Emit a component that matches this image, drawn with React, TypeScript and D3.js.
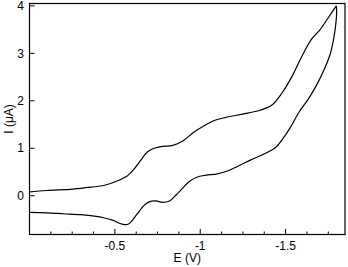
import React from "react";
import * as d3 from "d3";

const forwardE = [0, -0.1, -0.255, -0.36, -0.44, -0.52, -0.57, -0.61, -0.65, -0.69, -0.73, -0.78, -0.84, -0.9, -0.96, -1.02, -1.08, -1.15, -1.25, -1.35, -1.42, -1.48, -1.54, -1.6, -1.65, -1.7, -1.75, -1.797];
const forwardI = [0.08, 0.11, 0.14, 0.18, 0.22, 0.32, 0.41, 0.55, 0.74, 0.92, 1.0, 1.04, 1.06, 1.16, 1.33, 1.47, 1.58, 1.65, 1.72, 1.8, 1.91, 2.17, 2.53, 2.97, 3.29, 3.49, 3.75, 4.0];
const reverseE = [-1.797, -1.799, -1.785, -1.76, -1.72, -1.68, -1.63, -1.58, -1.53, -1.48, -1.44, -1.38, -1.3, -1.22, -1.16, -1.1, -1.03, -0.98, -0.94, -0.9, -0.86, -0.82, -0.78, -0.74, -0.7, -0.67, -0.63, -0.6, -0.58, -0.56, -0.53, -0.49, -0.44, -0.38, -0.3, -0.2, -0.1, 0];
const reverseI = [4.0, 3.85, 3.38, 2.97, 2.61, 2.32, 2.02, 1.77, 1.45, 1.18, 1.01, 0.89, 0.76, 0.62, 0.52, 0.46, 0.43, 0.39, 0.31, 0.17, 0.02, -0.11, -0.14, -0.11, -0.13, -0.21, -0.39, -0.53, -0.595, -0.61, -0.585, -0.52, -0.47, -0.43, -0.4, -0.38, -0.36, -0.35];

const xMajorTicks = [-0.5, -1, -1.5];
const xTickLabels = ["-0.5", "-1", "-1.5"];
const xMinorTicks = [-0.125, -0.25, -0.375, -0.625, -0.75, -0.875, -1.125, -1.25, -1.375, -1.625, -1.75];
const yTicks = [0, 1, 2, 3, 4];
const yTickLabels = ["0", "1", "2", "3", "4"];

export default function App() {
  const left = 29.5, right = 345, top = 3.5, bottom = 234.5;
  const x = d3.scaleLinear().domain([0, -1.848]).range([left, right]);
  const y = d3.scaleLinear().domain([-0.817, 4.05]).range([bottom, top]);
  const line = d3
    .line<[number, number]>()
    .x((d) => x(d[0]))
    .y((d) => y(d[1]))
    .curve(d3.curveCatmullRom.alpha(0.5));
  const fwd = forwardE.map((e, i) => [e, forwardI[i]] as [number, number]);
  const rev = reverseE.map((e, i) => [e, reverseI[i]] as [number, number]);
  const font = "'Liberation Sans', Arial, Helvetica, sans-serif";
  return (
    <svg width={348} height={267} style={{ position: "absolute", left: 0, top: 0, background: "#fff" }} fontFamily={font}>
      <rect x={0} y={0} width={348} height={267} fill="#fff" />
      <path d={line(fwd) || ""} fill="none" stroke="#000" strokeWidth={1.2} strokeLinejoin="round" />
      <path d={line(rev) || ""} fill="none" stroke="#000" strokeWidth={1.2} strokeLinejoin="round" />
      <rect x={left} y={top} width={right - left} height={bottom - top} fill="none" stroke="#000" strokeWidth={1.2} />
      {xMajorTicks.map((t, i) => (
        <g key={"xm" + i}>
          <line x1={x(t)} x2={x(t)} y1={bottom} y2={bottom - 5.5} stroke="#000" strokeWidth={1} />
          <text x={x(t)} y={249.5} fontSize={12} textAnchor="middle" fill="#000">{xTickLabels[i]}</text>
        </g>
      ))}
      {xMinorTicks.map((t, i) => (
        <line key={"xn" + i} x1={x(t)} x2={x(t)} y1={bottom} y2={bottom - 3} stroke="#000" strokeWidth={1} />
      ))}
      {yTicks.map((t, i) => (
        <g key={"y" + i}>
          <line x1={left} x2={left + 5} y1={y(t)} y2={y(t)} stroke="#000" strokeWidth={1} />
          <text x={24} y={y(t) + 4.2} fontSize={12} textAnchor="end" fill="#000">{yTickLabels[i]}</text>
        </g>
      ))}
      <text x={(left + right) / 2} y={262} fontSize={12} textAnchor="middle" fill="#000">E (V)</text>
      <text transform={`translate(12.5, ${(top + bottom) / 2}) rotate(-90)`} fontSize={12} textAnchor="middle" fill="#000">I (μA)</text>
    </svg>
  );
}
